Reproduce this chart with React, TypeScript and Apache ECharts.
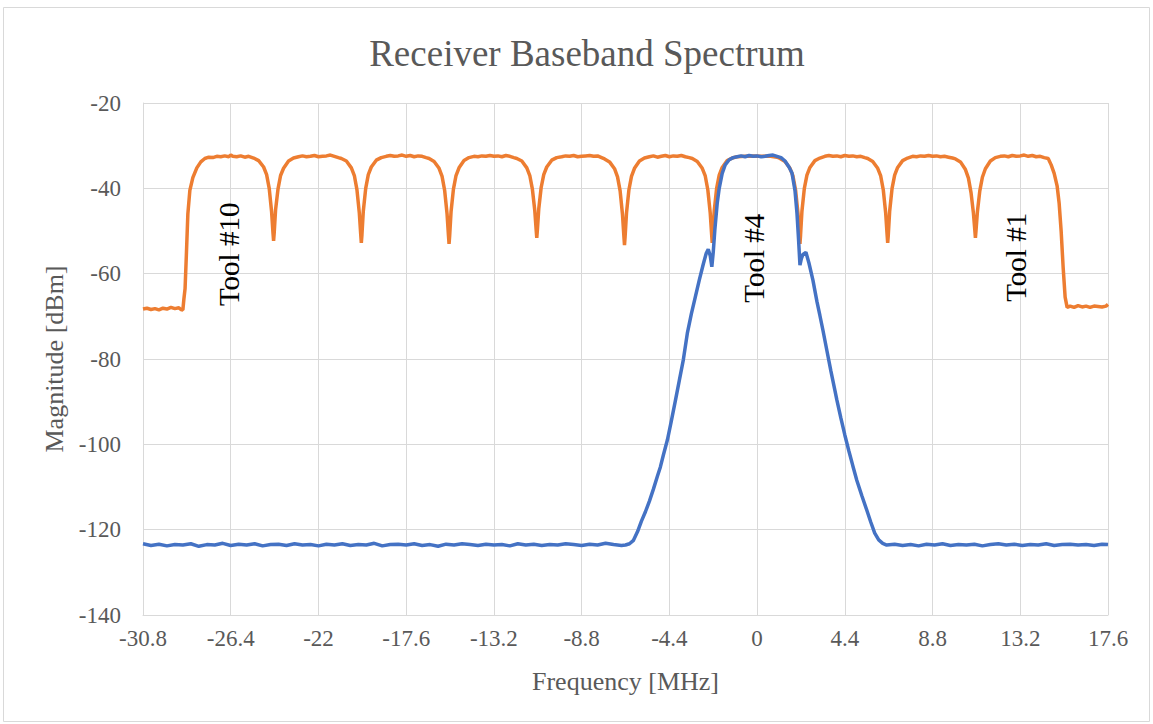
import React, { useEffect, useRef } from "react";
import * as echarts from "echarts";

// Frequency [MHz], Magnitude [dBm] pairs
const orangeSpectrum: [number, number][] = [
  [-30.8, -68.3], [-30.6, -68.1], [-30.4, -68.4], [-30.2, -68.2], [-30.0, -68.5], [-29.8, -68.1],
  [-29.6, -68.3], [-29.4, -67.9], [-29.2, -68.2], [-29.0, -68.0], [-28.9, -68.4], [-28.8, -68.5],
  [-28.75, -66.0], [-28.69, -63.5], [-28.62, -55.0], [-28.55, -46.0], [-28.45, -40.5], [-28.3, -37.5],
  [-28.1, -35.2], [-27.9, -33.8], [-27.7, -33.0], [-27.5, -32.7],
  [-27.3, -32.8], [-27.1, -32.5], [-26.9, -32.6], [-26.7, -32.4], [-26.5, -32.6], [-26.4, -32.2],
  [-26.3, -32.5], [-26.1, -32.6], [-25.9, -32.4], [-25.7, -32.7], [-25.5, -32.5], [-25.25, -32.9],
  [-25.0, -33.5], [-24.75, -35.0], [-24.6, -36.8], [-24.47, -40.0], [-24.35, -45.5], [-24.28, -50.5],
  [-24.25, -52.3], [-24.22, -50.5], [-24.15, -45.0], [-24.03, -40.2], [-23.9, -37.0], [-23.75, -35.3],
  [-23.5, -33.6], [-23.25, -32.9],
  [-23.0, -32.6], [-22.8, -32.4], [-22.6, -32.6], [-22.4, -32.5], [-22.2, -32.3], [-22.0, -32.6],
  [-21.8, -32.5], [-21.6, -32.4], [-21.4, -32.2], [-21.2, -32.5], [-21.0, -32.8],
  [-20.85, -33.0], [-20.6, -33.6], [-20.35, -35.2], [-20.2, -37.0], [-20.07, -40.3], [-19.95, -45.8],
  [-19.88, -50.8], [-19.85, -52.8], [-19.82, -51.0], [-19.75, -45.3], [-19.63, -40.0], [-19.5, -36.8],
  [-19.35, -35.0], [-19.1, -33.4], [-18.85, -32.8],
  [-18.6, -32.5], [-18.4, -32.3], [-18.2, -32.5], [-18.0, -32.4], [-17.8, -32.2], [-17.6, -32.5],
  [-17.4, -32.3], [-17.2, -32.6], [-17.0, -32.4], [-16.8, -32.5], [-16.6, -32.8],
  [-16.45, -33.0], [-16.2, -33.7], [-15.95, -35.3], [-15.8, -37.2], [-15.67, -40.5], [-15.55, -46.0],
  [-15.48, -51.0], [-15.45, -53.0], [-15.42, -51.2], [-15.35, -45.5], [-15.23, -40.2], [-15.1, -37.0],
  [-14.95, -35.2], [-14.7, -33.5], [-14.45, -32.8],
  [-14.2, -32.5], [-14.0, -32.6], [-13.8, -32.4], [-13.6, -32.5], [-13.4, -32.3], [-13.2, -32.5],
  [-13.0, -32.4], [-12.8, -32.6], [-12.6, -32.3], [-12.4, -32.5], [-12.2, -32.8],
  [-12.05, -33.0], [-11.8, -33.6], [-11.55, -35.2], [-11.4, -37.0], [-11.27, -40.2], [-11.15, -45.2],
  [-11.08, -49.8], [-11.05, -51.6], [-11.02, -49.8], [-10.95, -44.8], [-10.83, -39.8], [-10.7, -36.8],
  [-10.55, -35.0], [-10.3, -33.4], [-10.05, -32.8],
  [-9.8, -32.6], [-9.6, -32.4], [-9.4, -32.5], [-9.2, -32.3], [-9.0, -32.6], [-8.8, -32.5],
  [-8.6, -32.4], [-8.4, -32.3], [-8.2, -32.5], [-8.0, -32.4], [-7.8, -32.8],
  [-7.65, -33.1], [-7.4, -33.8], [-7.15, -35.4], [-7.0, -37.3], [-6.87, -40.6], [-6.75, -46.2],
  [-6.68, -51.3], [-6.65, -53.3], [-6.62, -51.4], [-6.55, -45.8], [-6.43, -40.4], [-6.3, -37.2],
  [-6.15, -35.3], [-5.9, -33.6], [-5.65, -32.9],
  [-5.4, -32.6], [-5.2, -32.4], [-5.0, -32.7], [-4.8, -32.5], [-4.6, -32.3], [-4.4, -32.6],
  [-4.2, -32.4], [-4.0, -32.5], [-3.8, -32.3], [-3.6, -32.6], [-3.4, -32.8],
  [-3.25, -33.0], [-3.0, -33.7], [-2.75, -35.3], [-2.6, -37.1], [-2.47, -40.4], [-2.35, -45.8],
  [-2.28, -50.8], [-2.25, -52.8], [-2.22, -51.0], [-2.15, -45.3], [-2.03, -40.0], [-1.9, -36.9],
  [-1.75, -35.1], [-1.5, -33.5], [-1.25, -32.9],
  [-1.0, -32.6], [-0.6, -32.5], [-0.2, -32.4], [0.2, -32.5], [0.6, -32.4], [1.0, -32.7],
  [1.15, -33.0], [1.4, -33.7], [1.65, -35.3], [1.8, -37.1], [1.93, -40.4], [2.05, -45.8],
  [2.12, -51.0], [2.15, -53.0], [2.18, -51.0], [2.25, -45.3], [2.37, -40.0], [2.5, -36.9],
  [2.65, -35.1], [2.9, -33.5], [3.15, -32.9],
  [3.4, -32.5], [3.6, -32.3], [3.8, -32.5], [4.0, -32.4], [4.2, -32.6], [4.4, -32.3],
  [4.6, -32.5], [4.8, -32.4], [5.0, -32.6], [5.2, -32.5], [5.4, -32.8],
  [5.55, -33.0], [5.8, -33.7], [6.05, -35.3], [6.2, -37.1], [6.33, -40.4], [6.45, -45.8],
  [6.52, -50.8], [6.55, -52.8], [6.58, -51.0], [6.65, -45.3], [6.77, -40.0], [6.9, -36.9],
  [7.05, -35.1], [7.3, -33.5], [7.55, -32.9],
  [7.8, -32.5], [8.0, -32.6], [8.2, -32.4], [8.4, -32.5], [8.6, -32.3], [8.8, -32.5],
  [9.0, -32.4], [9.2, -32.6], [9.4, -32.5], [9.6, -32.7], [9.8, -32.9],
  [9.95, -33.1], [10.2, -33.8], [10.45, -35.6], [10.6, -37.6], [10.73, -41.0], [10.85, -45.8],
  [10.92, -49.8], [10.95, -51.6], [10.98, -49.9], [11.05, -45.5], [11.17, -40.6], [11.3, -37.4],
  [11.45, -35.4], [11.7, -33.6], [11.95, -32.8],
  [12.2, -32.5], [12.4, -32.4], [12.6, -32.6], [12.8, -32.3], [13.0, -32.5], [13.2, -32.4],
  [13.4, -32.2], [13.6, -32.5], [13.8, -32.3], [14.0, -32.6], [14.2, -32.5], [14.4, -32.8],
  [14.6, -33.0], [14.75, -34.5], [14.9, -36.5], [15.05, -39.5], [15.15, -43.5], [15.25, -50.0],
  [15.35, -58.5], [15.45, -65.5], [15.55, -67.9],
  [15.7, -67.6], [15.9, -67.9], [16.1, -67.5], [16.3, -67.8], [16.5, -67.6], [16.7, -67.9],
  [16.9, -67.6], [17.1, -67.7], [17.3, -67.8], [17.5, -67.6], [17.6, -67.2],
];

const blueSpectrum: [number, number][] = [
  [-30.8, -123.3], [-30.4, -123.7], [-30.0, -123.4], [-29.6, -123.8], [-29.2, -123.5], [-28.8, -123.6],
  [-28.4, -123.3], [-28.0, -123.9], [-27.6, -123.5], [-27.2, -123.6], [-26.8, -123.2], [-26.4, -123.7],
  [-26.0, -123.4], [-25.6, -123.6], [-25.2, -123.3], [-24.8, -123.8], [-24.4, -123.5], [-24.0, -123.4],
  [-23.6, -123.7], [-23.2, -123.3], [-22.8, -123.6], [-22.4, -123.5], [-22.0, -123.8], [-21.6, -123.4],
  [-21.2, -123.6], [-20.8, -123.3], [-20.4, -123.7], [-20.0, -123.5], [-19.6, -123.6], [-19.2, -123.2],
  [-18.8, -123.8], [-18.4, -123.5], [-18.0, -123.4], [-17.6, -123.6], [-17.2, -123.3], [-16.8, -123.7],
  [-16.4, -123.5], [-16.0, -123.9], [-15.6, -123.4], [-15.2, -123.6], [-14.8, -123.3], [-14.4, -123.5],
  [-14.0, -123.7], [-13.6, -123.4], [-13.2, -123.6], [-12.8, -123.5], [-12.4, -123.8], [-12.0, -123.3],
  [-11.6, -123.6], [-11.2, -123.4], [-10.8, -123.7], [-10.4, -123.5], [-10.0, -123.6], [-9.6, -123.3],
  [-9.2, -123.5], [-8.8, -123.7], [-8.4, -123.4], [-8.0, -123.6], [-7.6, -123.2], [-7.2, -123.5],
  [-6.8, -123.7], [-6.6, -123.6],
  [-6.4, -123.3], [-6.2, -122.5], [-6.0, -120.5], [-5.8, -118.0], [-5.6, -115.8], [-5.4, -113.3],
  [-5.2, -110.5], [-5.0, -107.5], [-4.85, -105.3], [-4.7, -102.5], [-4.5, -99.0], [-4.3, -94.5],
  [-4.1, -89.8], [-3.9, -85.0], [-3.7, -80.2], [-3.5, -74.0], [-3.3, -69.5], [-3.1, -65.5],
  [-2.9, -61.5], [-2.7, -57.8], [-2.55, -55.2], [-2.45, -54.3], [-2.35, -55.8], [-2.27, -58.4],
  [-2.2, -55.0], [-2.12, -49.8], [-2.0, -43.5], [-1.9, -40.0], [-1.75, -36.5], [-1.6, -34.5],
  [-1.4, -33.3], [-1.2, -32.8],
  [-1.0, -32.6], [-0.8, -32.4], [-0.6, -32.6], [-0.4, -32.3], [-0.2, -32.5], [0.0, -32.4],
  [0.2, -32.6], [0.4, -32.5], [0.6, -32.3], [0.8, -32.2], [1.0, -32.5], [1.2, -32.8],
  [1.4, -33.6], [1.6, -35.0], [1.75, -36.4], [1.9, -40.5], [2.0, -45.8], [2.08, -52.0],
  [2.15, -58.0], [2.22, -56.5], [2.3, -55.5], [2.45, -55.0], [2.6, -57.5], [2.8, -61.5],
  [3.0, -66.5], [3.15, -69.8], [3.3, -73.2], [3.5, -78.0], [3.7, -82.8], [3.9, -87.3],
  [4.0, -89.6], [4.2, -93.8], [4.4, -97.8], [4.6, -101.5], [4.8, -105.0], [5.0, -108.4],
  [5.25, -112.0], [5.5, -115.4], [5.7, -118.2], [5.9, -120.8], [6.1, -122.4], [6.3, -123.2],
  [6.5, -123.6], [6.9, -123.4], [7.3, -123.7], [7.7, -123.5], [8.1, -123.8], [8.5, -123.4],
  [8.9, -123.6], [9.3, -123.3], [9.7, -123.7], [10.1, -123.5], [10.5, -123.6], [10.9, -123.4],
  [11.3, -123.8], [11.7, -123.5], [12.1, -123.3], [12.5, -123.6], [12.9, -123.4], [13.3, -123.7],
  [13.7, -123.5], [14.1, -123.6], [14.5, -123.3], [14.9, -123.7], [15.3, -123.5], [15.7, -123.4],
  [16.1, -123.6], [16.5, -123.5], [16.9, -123.7], [17.3, -123.4], [17.6, -123.5],
];

const xTicks = { min: -30.8, max: 17.6, interval: 4.4 };
const yTicks = { min: -140, max: -20, interval: 20 };

const toolLabels: { text: string; at: [number, number] }[] = [
  { text: "Tool #10", at: [-26.5, -67.6] },
  { text: "Tool #4", at: [-0.15, -66.8] },
  { text: "Tool #1", at: [13.0, -66.6] },
];

const FONT = "'Liberation Serif', 'Times New Roman', serif";
const GRID_COLOR = "#D9D9D9";
const TEXT_COLOR = "#595959";

export default function App() {
  const ref = useRef<HTMLDivElement>(null);
  useEffect(() => {
    if (!ref.current) return;
    const chart = echarts.init(ref.current, undefined, { renderer: "svg" });
    const option: any = {
      animation: false,
      backgroundColor: "#FFFFFF",
      title: {
        text: "Receiver Baseband Spectrum",
        left: 582,
        top: 30,
        textAlign: "center",
        textStyle: { fontFamily: FONT, fontSize: 37, fontWeight: "normal", color: TEXT_COLOR },
      },
      grid: { left: 143, right: 45, top: 103, bottom: 109, containLabel: false },
      xAxis: {
        type: "value",
        min: xTicks.min,
        max: xTicks.max,
        interval: xTicks.interval,
        name: "Frequency [MHz]",
        nameLocation: "middle",
        nameGap: 53,
        nameTextStyle: { fontFamily: FONT, fontSize: 26, color: TEXT_COLOR },
        axisLine: { onZero: false, lineStyle: { color: GRID_COLOR, width: 1 } },
        axisTick: { show: false },
        axisLabel: {
          fontFamily: FONT,
          fontSize: 23,
          color: TEXT_COLOR,
          margin: 12,
          showMinLabel: true,
          showMaxLabel: true,
          formatter: (v: number) => String(Number(v.toFixed(1))),
        },
        splitLine: { show: true, lineStyle: { color: GRID_COLOR, width: 1 } },
      },
      yAxis: {
        type: "value",
        min: yTicks.min,
        max: yTicks.max,
        interval: yTicks.interval,
        name: "Magnitude [dBm]",
        nameLocation: "middle",
        nameGap: 76,
        nameTextStyle: { fontFamily: FONT, fontSize: 26, color: TEXT_COLOR },
        axisLine: { show: true, onZero: false, lineStyle: { color: GRID_COLOR, width: 1 } },
        axisTick: { show: false },
        axisLabel: { fontFamily: FONT, fontSize: 23, color: TEXT_COLOR, margin: 22 },
        splitLine: { show: true, lineStyle: { color: GRID_COLOR, width: 1 } },
      },
      series: [
        {
          name: "Multi-tool",
          type: "line",
          data: orangeSpectrum,
          showSymbol: false,
          lineStyle: { color: "#ED7D31", width: 3.5 },
          itemStyle: { color: "#ED7D31" },
          z: 2,
        },
        {
          name: "Tool #4",
          type: "line",
          data: blueSpectrum,
          showSymbol: false,
          lineStyle: { color: "#4472C4", width: 3.5 },
          itemStyle: { color: "#4472C4" },
          z: 3,
        },
      ],
    };
    chart.setOption(option);
    const graphics: any[] = [
      {
        type: "rect",
        shape: { x: 3.5, y: 7.5, width: 1146, height: 714 },
        style: { fill: "none", stroke: GRID_COLOR, lineWidth: 1 },
        silent: true,
        z: -1,
      },
    ];
    toolLabels.forEach((t) => {
      const p = chart.convertToPixel({ gridIndex: 0 }, t.at) as number[];
      graphics.push({
        type: "text",
        x: p[0],
        y: p[1],
        rotation: Math.PI / 2,
        style: {
          text: t.text,
          fontFamily: FONT,
          fontSize: 29,
          fill: "#000000",
          textAlign: "left",
          textVerticalAlign: "middle",
        },
        z: 10,
      });
    });
    chart.setOption({ graphic: graphics });
    return () => chart.dispose();
  }, []);
  return (
    <div
      ref={ref}
      style={{ position: "fixed", left: 0, top: 0, width: 1153, height: 724, background: "#fff" }}
    />
  );
}
